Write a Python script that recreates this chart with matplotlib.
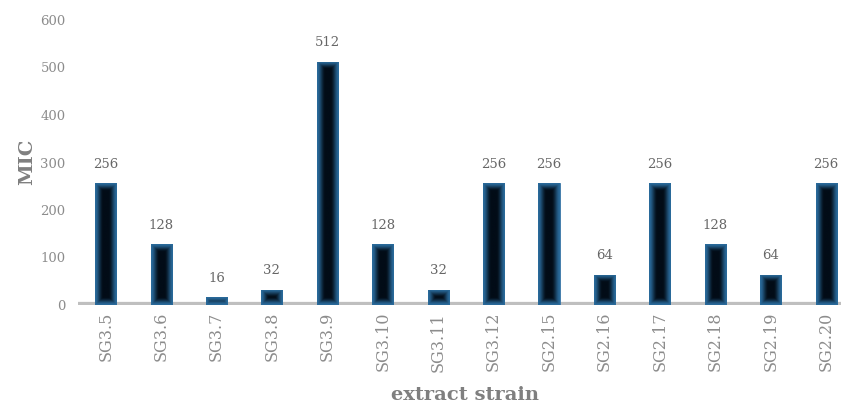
import matplotlib.pyplot as plt
import matplotlib.colors as mcolors
import numpy as np

# dados do grafico
strains = ['SG3.5', 'SG3.6', 'SG3.7', 'SG3.8', 'SG3.9', 'SG3.10', 'SG3.11',
           'SG3.12', 'SG2.15', 'SG2.16', 'SG2.17', 'SG2.18', 'SG2.19', 'SG2.20']
mic = [256, 128, 16, 32, 512, 128, 32, 256, 256, 64, 256, 128, 64, 256]
yticks = [0, 100, 200, 300, 400, 500, 600]

edge_col = np.array(mcolors.to_rgb('#2a6b9c'))
center_col = np.array(mcolors.to_rgb('#020c17'))

fig = plt.figure(figsize=(8.41, 4.05), dpi=100)
ax = fig.add_axes([78/841, 100/405, (841-78)/841, 285/405])

x = np.arange(len(strains))
ax.set_xlim(-0.5, 13.27)
ax.set_ylim(0, 600)

bars = ax.bar(x, mic, width=0.38, color='#0b2b47', edgecolor='#3d7db0',
              linewidth=0.6, zorder=3)

# gradiente "glow" dentro das barras
fig.canvas.draw()
up = 4
for b in bars:
    x0, y0 = b.get_x(), b.get_y()
    x1, y1 = x0 + b.get_width(), y0 + b.get_height()
    p0 = ax.transData.transform((x0, y0))
    p1 = ax.transData.transform((x1, y1))
    wp = p1[0] - p0[0]
    hp = p1[1] - p0[1]
    w = max(int(round(wp * up)), 2)
    h = max(int(round(hp * up)), 2)
    xx = (np.arange(w) + 0.5) / up
    yy = (np.arange(h) + 0.5) / up
    dx = np.minimum(xx, wp - xx)[None, :]
    dy = np.minimum(yy, hp - yy)[:, None]
    d = np.minimum(dx, dy)
    t = np.clip(d / 8.0, 0, 1)
    t = t * t * (3 - 2 * t)
    img = edge_col[None, None, :] * (1 - t[..., None]) + center_col[None, None, :] * t[..., None]
    im = ax.imshow(img, extent=(x0, x1, y0, y1), aspect='auto', origin='lower',
                   zorder=3.5, interpolation='bilinear')
    im.set_clip_path(b)

ax.set_xlim(-0.5, 13.27)
ax.set_ylim(0, 600)

ax.axhline(0, color='#bfbfbf', linewidth=4.5, zorder=2)

ax.bar_label(bars, labels=[str(v) for v in mic], padding=9, fontsize=9.5,
             color='#666666', family='DejaVu Serif')

for s in ax.spines.values():
    s.set_visible(False)

ax.set_yticks(yticks)
ax.set_yticklabels([str(v) for v in yticks], family='DejaVu Serif', fontsize=9.5, color='#8c8c8c')
ax.set_xticks(x)
ax.set_xticklabels(strains, rotation=90, family='DejaVu Serif', fontsize=11.5, color='#8c8c8c')
ax.tick_params(axis='both', length=0)
ax.tick_params(axis='y', pad=9)
ax.tick_params(axis='x', pad=5)

fig.text(27/841, 1 - 162/405, 'MIC', rotation=90, ha='center', va='center',
         fontsize=14, fontweight='bold', color='#7f7f7f', family='DejaVu Serif')
fig.text(465/841, 1 - 395/405, 'extract strain', ha='center', va='center',
         fontsize=14, fontweight='bold', color='#7f7f7f', family='DejaVu Serif')

fig.savefig('out.png', dpi=100)
